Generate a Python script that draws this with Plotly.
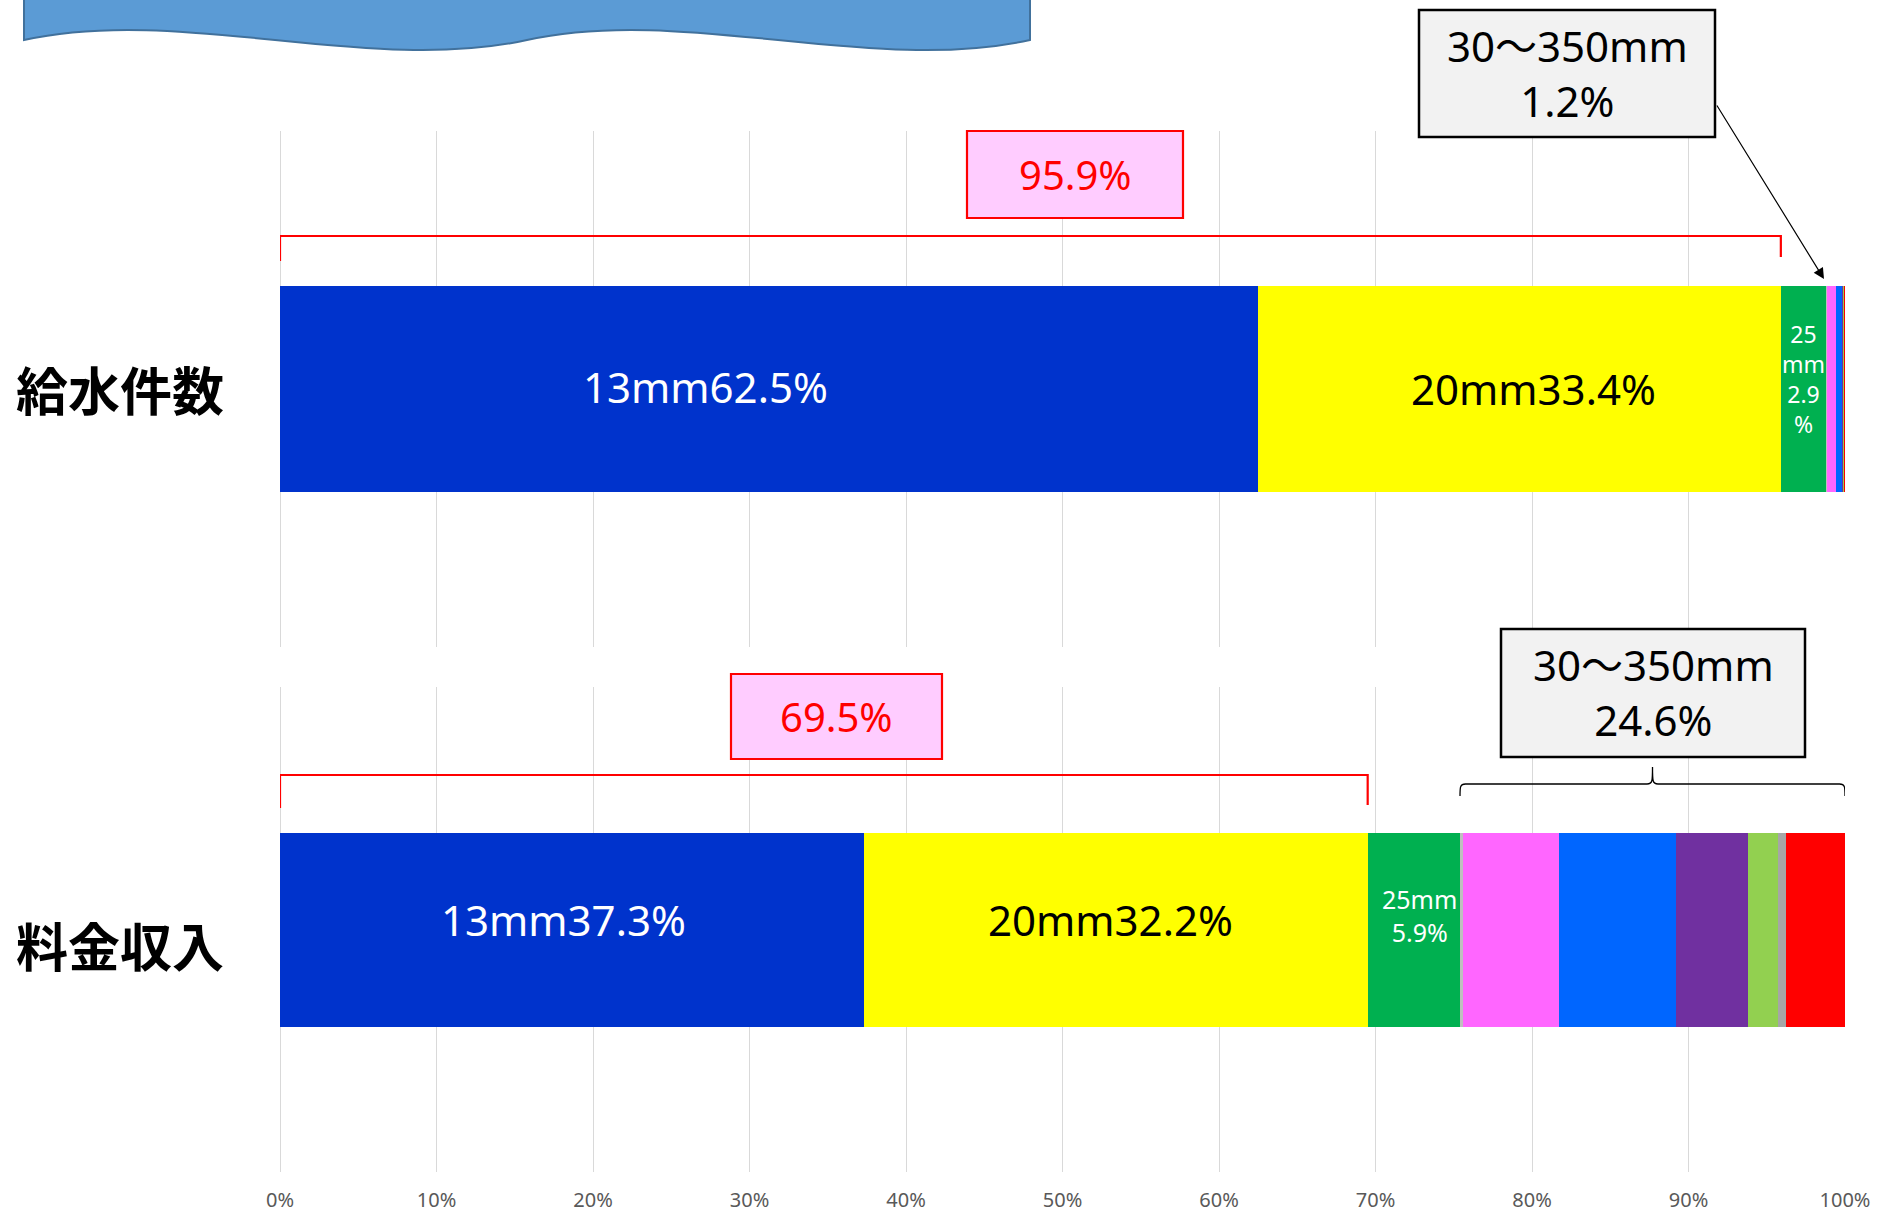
import plotly.graph_objects as go

# ---------------- data ----------------
categories = ["給水件数", "料金収入"]
sizes = ["13mm", "20mm", "25mm", "30mm", "40mm", "50mm", "75mm", "100mm", "150mm", "200mm以上"]
colors = ["#0033CC", "#FFFF00", "#00B050", "#BFBFBF", "#FF66FF", "#0066FF",
          "#7030A0", "#92D050", "#A6A6A6", "#FF0000"]
supply_share = [62.5, 33.4, 2.9, 0.02, 0.62, 0.38, 0.10, 0.04, 0.02, 0.02]   # 給水件数 (%)
revenue_share = [37.3, 32.2, 5.9, 0.2, 6.1, 7.5, 4.6, 1.9, 0.5, 3.8]         # 料金収入 (%)
supply_small_total = 1.2     # 30〜350mm share of 給水件数
revenue_small_total = 24.6   # 30〜350mm share of 料金収入
tick_vals = [0, 10, 20, 30, 40, 50, 60, 70, 80, 90, 100]
tick_text = [f"{v}%" for v in tick_vals]

# ---------------- geometry helpers (page pixels -> paper) ----------------
W, H = 1897, 1213
def px(x):
    return x / W
def py(y):
    return 1 - y / H

FONT = "Noto Sans, Noto Sans CJK JP, sans-serif"
x_dom = [px(280), px(1845)]
top_dom = [py(647), py(131)]
bot_dom = [py(1172), py(687)]

fig = go.Figure()

for i, name in enumerate(sizes):
    for chart, (vals, xa, ya) in enumerate([(supply_share, "x", "y"), (revenue_share, "x2", "y2")]):
        fig.add_trace(go.Bar(
            x=[vals[i]], y=[categories[chart]], orientation="h",
            name=name, marker=dict(color=colors[i], line=dict(width=0)),
            width=0.4, xaxis=xa, yaxis=ya,
            showlegend=(chart == 0), hoverinfo="x+name",
        ))

axis_common = dict(range=[0, 100], tickvals=tick_vals, ticktext=tick_text,
                   showgrid=True, gridcolor="#D9D9D9", gridwidth=1.3,
                   zeroline=True, zerolinecolor="#D9D9D9", zerolinewidth=1.3,
                   showline=False, ticks="", fixedrange=True, automargin=False)

fig.update_layout(
    width=W, height=H,
    margin=dict(l=0, r=0, t=0, b=0, pad=0, autoexpand=False),
    paper_bgcolor="white", plot_bgcolor="white",
    barmode="stack", showlegend=False,
    font=dict(family=FONT),
    xaxis=dict(domain=x_dom, anchor="y", showticklabels=False, **axis_common),
    yaxis=dict(domain=top_dom, anchor="x", range=[-0.5, 0.5], showticklabels=False,
               showgrid=False, zeroline=False, type="category", automargin=False),
    xaxis2=dict(domain=x_dom, anchor="y2", showticklabels=True,
                tickfont=dict(size=20, color="#595959", family=FONT),
                ticklabelstandoff=14, **axis_common),
    yaxis2=dict(domain=bot_dom, anchor="x2", range=[-0.5, 0.5], showticklabels=False,
                showgrid=False, zeroline=False, type="category", automargin=False),
)

shapes = []
annotations = []

# ---- segment labels (placed at segment midpoints via the data axes) ----
label_color = {"13mm": "white", "20mm": "black", "25mm": "white"}
# manual nudges (pixels) as in the original Excel chart
nudges = [
    {"13mm": (-64, 2), "20mm": (14, 0), "25mm": (0, 10)},
    {"13mm": (-8, 10), "20mm": (-5, 10), "25mm": (6, 14)},
]
for chart, (vals, xa, ya) in enumerate([(supply_share, "x", "y"), (revenue_share, "x2", "y2")]):
    start = 0.0
    for i, name in enumerate(sizes):
        v = vals[i]
        if name in label_color:
            if name == "25mm":
                txt = f"25<br>mm<br>{v}<br>%" if chart == 0 else f"25mm<br>{v}%"
                size = 23 if chart == 0 else 25
            else:
                txt = f"{name}{v}%"
                size = 42
            dx, dy = nudges[chart][name]
            annotations.append(dict(x=start + v / 2, y=categories[chart], xref=xa, yref=ya,
                                    text=txt, showarrow=False, xanchor="center", yanchor="middle",
                                    xshift=dx, yshift=dy,
                                    font=dict(family=FONT, size=size, color=label_color[name])))
        start += v

# banner (wavy shape) at the top
def pt(x, y):
    return f"{px(x)},{py(y)}"
banner = (f"M {pt(24,-5)} L {pt(24,40)} "
          f"C {pt(180,5)} {pt(370,75)} {pt(527,40)} "
          f"C {pt(683,5)} {pt(873,75)} {pt(1030,40)} "
          f"L {pt(1030,-5)} Z")
shapes.append(dict(type="path", xref="paper", yref="paper", path=banner,
                   fillcolor="#5B9BD5", line=dict(color="#41719C", width=2), layer="above"))

# red brackets spanning 13mm+20mm
top_main = round(supply_share[0] + supply_share[1], 1)
bot_main = round(revenue_share[0] + revenue_share[1], 1)
shapes.append(dict(type="path", xref="x", yref="paper",
                   path=f"M 0,{py(261)} L 0,{py(236)} L {top_main},{py(236)} L {top_main},{py(257)}",
                   line=dict(color="#FF0000", width=2.2)))
shapes.append(dict(type="path", xref="x2", yref="paper",
                   path=f"M 0,{py(808)} L 0,{py(775)} L {bot_main},{py(775)} L {bot_main},{py(805)}",
                   line=dict(color="#FF0000", width=2.2)))

# curly brace over 30〜350mm in the revenue chart
a = round(sum(revenue_share[:3]), 1)
b = 100.0
m = (a + b) / 2
d = 0.35
brace = (f"M {a},{py(796)} C {a},{py(787)} {a},{py(784)} {a+d},{py(784)} "
         f"L {m-d},{py(784)} C {m},{py(784)} {m},{py(781)} {m},{py(767)} "
         f"C {m},{py(781)} {m},{py(784)} {m+d},{py(784)} "
         f"L {b-d},{py(784)} C {b},{py(784)} {b},{py(787)} {b},{py(796)}")
shapes.append(dict(type="path", xref="x2", yref="paper", path=brace,
                   line=dict(color="#000000", width=1.3)))

# boxes
def box(x0, y0, x1, y1, fill, line, lw):
    shapes.append(dict(type="rect", xref="paper", yref="paper",
                       x0=px(x0), x1=px(x1), y0=py(y1), y1=py(y0),
                       fillcolor=fill, line=dict(color=line, width=lw), layer="above"))

box(1419, 10, 1715, 137, "#F2F2F2", "#000000", 2.5)
box(967, 131, 1183, 218, "#FFCCFF", "#FF0000", 2.2)
box(731, 674, 942, 759, "#FFCCFF", "#FF0000", 2.2)
box(1501, 629, 1805, 757, "#F2F2F2", "#000000", 2.5)

def label(x, y, text, size, color, **kw):
    annotations.append(dict(x=px(x), y=py(y), xref="paper", yref="paper", text=text,
                            showarrow=False, xanchor="center", yanchor="middle",
                            font=dict(family=FONT, size=size, color=color), **kw))

label(1567, 73, f"30〜350mm<br>{supply_small_total}%", 42, "#000000")
label(1075, 174, f"{top_main}%", 40, "#FF0000")
label(836, 716, f"{bot_main}%", 40, "#FF0000")
label(1653, 692, f"30〜350mm<br>{revenue_small_total}%", 42, "#000000")

# category labels
for cat, yy in zip(categories, [388, 944]):
    annotations.append(dict(x=px(120), y=py(yy), xref="paper", yref="paper",
                            text=f"<b>{cat}</b>", showarrow=False,
                            xanchor="center", yanchor="middle",
                            font=dict(family="Noto Sans CJK JP", size=52, color="#000000")))

# arrow from the 1.2% box to the thin segments
annotations.append(dict(x=px(1824), y=py(279), xref="paper", yref="paper",
                        ax=1716 - 1824, ay=104 - 279, axref="pixel", ayref="pixel",
                        text="", showarrow=True, arrowhead=2, arrowsize=1.8,
                        arrowwidth=1.2, arrowcolor="#000000"))

fig.update_layout(shapes=shapes, annotations=annotations)
fig.write_html("out.html")
